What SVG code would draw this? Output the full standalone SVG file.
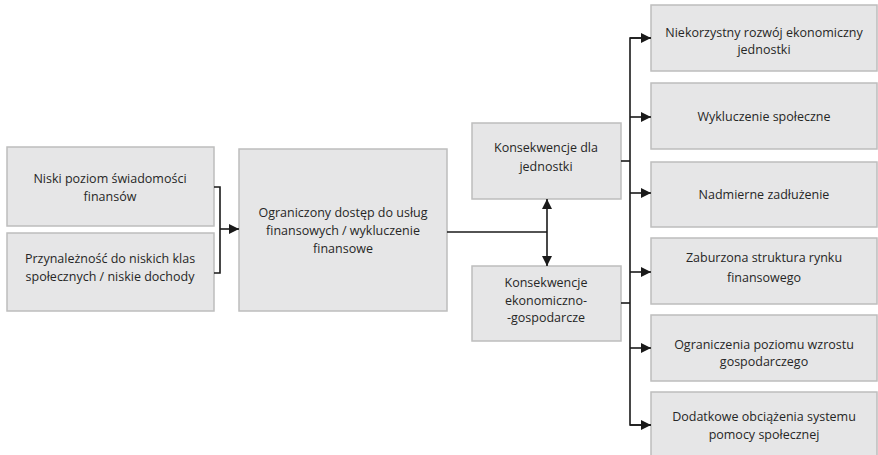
<svg xmlns="http://www.w3.org/2000/svg" width="878" height="455" viewBox="0 0 878 455">
<defs>
<style>
.box{fill:#e6e6e7;stroke:#bdbdbd;stroke-width:1.5}
.t{font-family:"Open Sans","Liberation Sans",sans-serif;font-size:12.5px;fill:#262626;text-anchor:middle}
.ln{fill:none;stroke:#1a1a1a;stroke-width:1.6}
</style>
<marker id="ah" viewBox="0 0 10 10" refX="10" refY="5" markerWidth="10" markerHeight="10" markerUnits="userSpaceOnUse" orient="auto-start-reverse">
<path d="M0,0 L10,5 L0,10 z" fill="#1a1a1a"/>
</marker>
</defs>
<rect width="878" height="455" fill="#ffffff"/>
<g id="n1"><rect class="box" x="7" y="147" width="207" height="79"/>
<text class="t" x="110" y="183">Niski poziom świadomości</text><text class="t" x="110" y="201">finansów</text></g>
<g id="n2"><rect class="box" x="7" y="233" width="207" height="78"/>
<text class="t" x="110" y="263">Przynależność do niskich klas</text><text class="t" x="110" y="281">społecznych / niskie dochody</text></g>
<g id="n3"><rect class="box" x="239" y="149" width="208" height="162"/>
<text class="t" x="343" y="217">Ograniczony dostęp do usług</text><text class="t" x="343" y="235">finansowych / wykluczenie</text><text class="t" x="343" y="253">finansowe</text></g>
<g id="n4"><rect class="box" x="472" y="123" width="149" height="76"/>
<text class="t" x="546" y="152">Konsekwencje dla</text><text class="t" x="546" y="171">jednostki</text></g>
<g id="n5"><rect class="box" x="472" y="266" width="149" height="75"/>
<text class="t" x="546" y="287">Konsekwencje</text><text class="t" x="546" y="305">ekonomiczno-</text><text class="t" x="546" y="322">-gospodarcze</text></g>
<g id="r1"><rect class="box" x="651" y="5" width="226" height="66"/>
<text class="t" x="764" y="37">Niekorzystny rozwój ekonomiczny</text><text class="t" x="764" y="54">jednostki</text></g>
<g id="r2"><rect class="box" x="651" y="83" width="226" height="66"/>
<text class="t" x="764" y="121">Wykluczenie społeczne</text></g>
<g id="r3"><rect class="box" x="651" y="162" width="226" height="65"/>
<text class="t" x="764" y="199">Nadmierne zadłużenie</text></g>
<g id="r4"><rect class="box" x="651" y="238" width="226" height="66"/>
<text class="t" x="764" y="262">Zaburzona struktura rynku</text><text class="t" x="764" y="282">finansowego</text></g>
<g id="r5"><rect class="box" x="651" y="315" width="226" height="66"/>
<text class="t" x="764" y="349">Ograniczenia poziomu wzrostu</text><text class="t" x="764" y="366">gospodarczego</text></g>
<g id="r6"><rect class="box" x="651" y="392" width="226" height="70"/>
<text class="t" x="764" y="421">Dodatkowe obciążenia systemu</text><text class="t" x="764" y="439">pomocy społecznej</text></g>
<g id="connectors">
<path class="ln" d="M214,187 H220 V273 H214"/>
<path class="ln" d="M220,229 H239" marker-end="url(#ah)"/>
<path class="ln" d="M447,232 H547"/>
<path class="ln" d="M547,199 V266" marker-start="url(#ah)" marker-end="url(#ah)"/>
<path class="ln" d="M621,161 H630"/>
<path class="ln" d="M621,303 H630"/>
<path class="ln" d="M651,38 H630 V425 H651"/>
<path class="ln" d="M630,38 H651" marker-end="url(#ah)"/>
<path class="ln" d="M630,117 H651" marker-end="url(#ah)"/>
<path class="ln" d="M630,193 H651" marker-end="url(#ah)"/>
<path class="ln" d="M630,272 H651" marker-end="url(#ah)"/>
<path class="ln" d="M630,348 H651" marker-end="url(#ah)"/>
<path class="ln" d="M630,425 H651" marker-end="url(#ah)"/>
</g>
</svg>
